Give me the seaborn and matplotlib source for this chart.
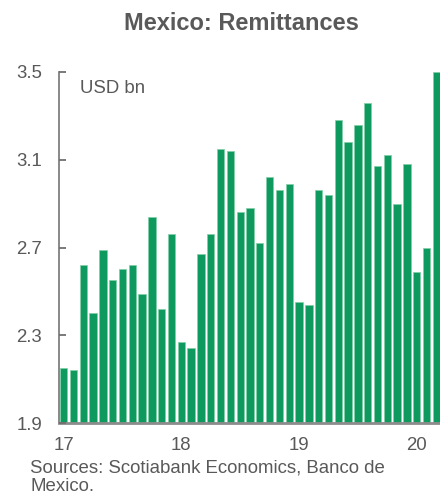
import matplotlib
matplotlib.use("Agg")
import matplotlib.pyplot as plt
import seaborn as sns
import pandas as pd

months = pd.date_range("2017-01-01", "2020-03-01", freq="MS").strftime("%Y-%m").tolist()
remittances = [2.15, 2.14, 2.62, 2.40, 2.69, 2.55, 2.60, 2.62, 2.49, 2.84, 2.42, 2.76,
               2.27, 2.24, 2.67, 2.76, 3.15, 3.14, 2.86, 2.88, 2.72, 3.02, 2.96, 2.99,
               2.45, 2.44, 2.96, 2.94, 3.28, 3.18, 3.26, 3.36, 3.07, 3.12, 2.90, 3.08,
               2.59, 2.70, 3.50]
year_labels = ["17", "18", "19", "20"]
y_ticks = [1.9, 2.3, 2.7, 3.1, 3.5]

sns.set_theme(style="white", rc={"ytick.left": True, "ytick.major.size": 5})
plt.rcParams["font.family"] = ["Liberation Sans", "DejaVu Sans"]

W, H = 440, 496
fig = plt.figure(figsize=(W / 100, H / 100), dpi=100)
ax = fig.add_axes([59 / W, (H - 423) / H, (440 - 59) / W, (423 - 72) / H])

df = pd.DataFrame({"month": months, "value": remittances})
sns.barplot(data=df, x="month", y="value", color="#0E9A5E", saturation=1,
            width=0.745, edgecolor="#7FCFA6", linewidth=0.5, ax=ax)

grey = "#595959"
ax.set_ylim(1.9, 3.5)
ax.set_xlim(-0.47, len(months) - 1 + 0.37)
ax.set_yticks(y_ticks)
ax.set_yticklabels([f"{v:.1f}" for v in y_ticks])
ax.set_xticks([months.index(f"20{y}-01") for y in year_labels])
ax.set_xticklabels(year_labels)
ax.set_xlabel("")
ax.set_ylabel("")
ax.set_axisbelow(False)
ax.tick_params(axis="y", which="major", direction="in", length=5, width=1.3,
               color="#6f6f6f", labelsize=13.4, labelcolor=grey, pad=12, left=True)
ax.tick_params(axis="x", length=0, labelsize=13.4, labelcolor=grey, pad=10)
for s in ["top", "right"]:
    ax.spines[s].set_visible(False)
ax.spines["left"].set_color("#7f7f7f")
ax.spines["left"].set_linewidth(1.3)
ax.spines["bottom"].set_color("#8c8c8c")
ax.spines["bottom"].set_linewidth(2)

fig.text(80 / W, 1 - 88 / H, "USD bn", fontsize=13.4, color=grey, va="center", ha="left")
fig.text(241 / W, 1 - 23 / H, "Mexico: Remittances", ha="center", va="center",
         fontsize=17, fontweight="bold", color=grey)
fig.text(30 / W, 1 - 477 / H, "Sources: Scotiabank Economics, Banco de\nMexico.",
         ha="left", va="center", fontsize=13.4, color=grey, linespacing=1.12)

fig.savefig("out.png", dpi=100)
